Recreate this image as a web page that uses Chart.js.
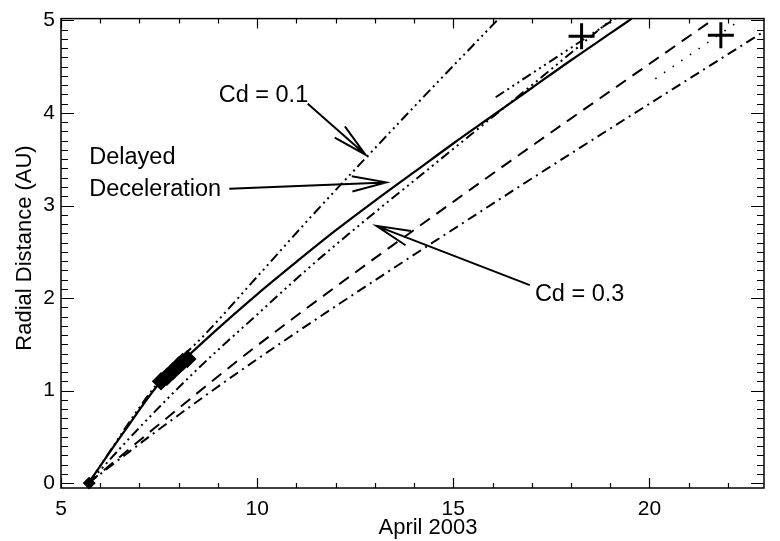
<!DOCTYPE html>
<html>
<head>
<meta charset="utf-8">
<style>
  html, body { margin: 0; padding: 0; background: #fff; }
  #wrap { width: 780px; height: 541px; }
</style>
<script src="https://cdn.jsdelivr.net/npm/chart.js@4.4.0/dist/chart.umd.min.js"></script>
</head>
<body>
<div id="wrap"><canvas id="radialChart" width="780" height="541"></canvas></div>
<script>
// axis ticks
const xTicks = [5, 10, 15, 20];
const yTicks = [0, 1, 2, 3, 4, 5];

// delayed deceleration (solid)
const delayedX = [5.7, 6.6, 7.55, 8.2, 9, 10, 11, 12, 13, 14, 15, 16, 17, 18, 19, 19.55];
const delayedY = [0, 0.55, 1.1, 1.36, 1.67, 2.04, 2.39, 2.73, 3.05, 3.36, 3.67, 3.97, 4.27, 4.57, 4.86, 5.02];

// Cd = 0.1 (dash dot dot dot, steep)
const cd01X = [5.7, 7.5, 8.7, 10, 11.29, 12.76, 14.21, 15.5, 16.16];
const cd01Y = [0, 1.1, 1.62, 2.23, 2.84, 3.51, 4.16, 4.73, 5.02];

// Cd = 0.3 (dash dot dot dot)
const cd03X = [5.7, 7, 8.5, 9.97, 11.3, 12.64, 14.21, 15.46, 17, 19.03];
const cd03Y = [0, 0.6, 1.24, 1.81, 2.32, 2.8, 3.34, 3.77, 4.3, 5.01];

// short fit through the first arrival
const fit1X = [16.08, 19.13];
const fit1Y = [4.17, 5.02];

// short dotted fit through the second arrival
const fit2X = [20.15, 22.3];
const fit2Y = [4.37, 5.0];

// dashed
const dashX = [5.7, 7.4, 9.89, 15.46, 21.62];
const dashY = [0, 0.6, 1.45, 3.18, 5.01];

// dash dot
const dashDotX = [5.7, 7.4, 9.97, 16.08, 22.62, 22.92];
const dashDotY = [0, 0.55, 1.33, 3.04, 4.8, 4.88];

// observations
const startX = [5.72];
const startY = [0];
const obsX = [7.55, 7.7, 7.85, 8.0, 8.1, 8.22];
const obsY = [1.1, 1.15, 1.21, 1.27, 1.31, 1.34];
const arrivalX = [18.27, 21.82];
const arrivalY = [4.83, 4.84];

const pts = (xs, ys) => xs.map((x, i) => ({ x: x, y: ys[i] }));

const DASH3DOT = [10, 4, 2, 4, 2, 4, 2, 4];

function lineSet(xs, ys, dash, width) {
  return {
    data: pts(xs, ys),
    borderColor: '#000',
    borderWidth: width || 2,
    borderDash: dash,
    pointRadius: 0,
    showLine: true,
    cubicInterpolationMode: 'monotone',
    fill: false
  };
}

const FONT = '"Liberation Sans", Arial, Helvetica, sans-serif';

// labels and arrows, in data coordinates
const notes = [
  { lines: ['Cd = 0.1'], x: 9.02, y: 4.19 },
  { lines: ['Delayed', 'Deceleration'], x: 5.72, y: 3.52 },
  { lines: ['Cd = 0.3'], x: 17.08, y: 2.04 }
];
const arrows = [
  { from: [11.29, 4.10], to: [12.76, 3.55] },
  { from: [9.29, 3.18], to: [13.29, 3.25] },
  { from: [16.95, 2.14], to: [13.04, 2.78] }
];

const annotate = {
  id: 'annotate',
  afterDraw(chart) {
    const ctx = chart.ctx;
    const xs = chart.scales.x, ys = chart.scales.y;
    const a = chart.chartArea;
    ctx.save();

    // frame
    ctx.strokeStyle = '#000';
    ctx.lineWidth = 1.5;
    ctx.strokeRect(a.left, a.top, a.right - a.left, a.bottom - a.top);

    // inward ticks, all four sides
    ctx.lineWidth = 1.2;
    ctx.beginPath();
    for (let v = 5; v <= 22; v++) {
      const px = Math.round(xs.getPixelForValue(v)) + 0.5;
      const len = v % 5 === 0 ? 10 : 5;
      ctx.moveTo(px, a.bottom); ctx.lineTo(px, a.bottom - len);
      ctx.moveTo(px, a.top); ctx.lineTo(px, a.top + len);
    }
    for (let k = 0; k <= 50; k++) {
      const v = k / 10;
      const py = Math.round(ys.getPixelForValue(v)) + 0.5;
      const len = k % 10 === 0 ? 13 : 7;
      ctx.moveTo(a.left, py); ctx.lineTo(a.left + len, py);
      ctx.moveTo(a.right, py); ctx.lineTo(a.right - len, py);
    }
    ctx.stroke();

    // axis titles
    ctx.fillStyle = '#000';
    ctx.font = '22px ' + FONT;
    ctx.textAlign = 'center';
    ctx.textBaseline = 'alphabetic';
    ctx.fillText('April 2003', 428, 534);
    ctx.save();
    ctx.translate(31, 248);
    ctx.rotate(-Math.PI / 2);
    ctx.fillText('Radial Distance (AU)', 0, 0);
    ctx.restore();

    // notes
    ctx.font = '23.5px ' + FONT;
    ctx.textAlign = 'left';
    ctx.textBaseline = 'middle';
    notes.forEach(n => {
      const px = xs.getPixelForValue(n.x);
      const py = ys.getPixelForValue(n.y);
      n.lines.forEach((t, i) => ctx.fillText(t, px, py + i * 32));
    });

    // arrows with open heads
    ctx.lineWidth = 2;
    arrows.forEach(ar => {
      const x0 = xs.getPixelForValue(ar.from[0]), y0 = ys.getPixelForValue(ar.from[1]);
      const x1 = xs.getPixelForValue(ar.to[0]), y1 = ys.getPixelForValue(ar.to[1]);
      const ang = Math.atan2(y0 - y1, x0 - x1);
      const len = 35, spread = 0.22;
      ctx.beginPath();
      ctx.moveTo(x0, y0); ctx.lineTo(x1, y1);
      ctx.moveTo(x1 + len * Math.cos(ang + spread), y1 + len * Math.sin(ang + spread));
      ctx.lineTo(x1, y1);
      ctx.lineTo(x1 + len * Math.cos(ang - spread), y1 + len * Math.sin(ang - spread));
      ctx.stroke();
    });
    ctx.restore();
  }
};

const ctx = document.getElementById('radialChart').getContext('2d');
new Chart(ctx, {
  type: 'scatter',
  data: {
    datasets: [
      lineSet(delayedX, delayedY, [], 2.2),
      lineSet(cd01X, cd01Y, DASH3DOT),
      lineSet(cd03X, cd03Y, DASH3DOT),
      lineSet(fit1X, fit1Y, DASH3DOT),
      lineSet(fit2X, fit2Y, [1.5, 9], 1.6),
      lineSet(dashX, dashY, [12, 8]),
      lineSet(dashDotX, dashDotY, [10, 5, 2, 5]),
      {
        data: pts(startX, startY),
        pointStyle: 'rectRot', pointRadius: 6,
        backgroundColor: '#000', borderColor: '#000', showLine: false
      },
      {
        data: pts(obsX, obsY),
        pointStyle: 'rectRot', pointRadius: 5,
        backgroundColor: '#000', borderColor: '#000',
        showLine: true, borderWidth: 6
      },
      {
        data: pts(arrivalX, arrivalY),
        pointStyle: 'cross', pointRadius: 13, borderWidth: 3,
        borderColor: '#000', showLine: false
      }
    ]
  },
  options: {
    responsive: false,
    animation: false,
    clip: false,
    layout: { padding: { left: 0, right: 1, top: 12, bottom: 0 } },
    plugins: { legend: { display: false }, tooltip: { enabled: false } },
    scales: {
      x: {
        type: 'linear',
        min: 5, max: 22.92,
        afterBuildTicks: s => { s.ticks = xTicks.map(v => ({ value: v })); },
        afterFit: s => { s.height = 53; },
        grid: { display: false, drawTicks: false },
        border: { display: false },
        ticks: { color: '#000', font: { size: 21, family: FONT }, padding: 9, maxRotation: 0 }
      },
      y: {
        type: 'linear',
        min: -0.053, max: 5.02,
        afterBuildTicks: s => { s.ticks = yTicks.map(v => ({ value: v })); },
        afterFit: s => { s.width = 61; },
        grid: { display: false, drawTicks: false },
        border: { display: false },
        ticks: { color: '#000', font: { size: 21, family: FONT }, padding: 6 }
      }
    }
  },
  plugins: [annotate]
});
</script>
</body>
</html>
